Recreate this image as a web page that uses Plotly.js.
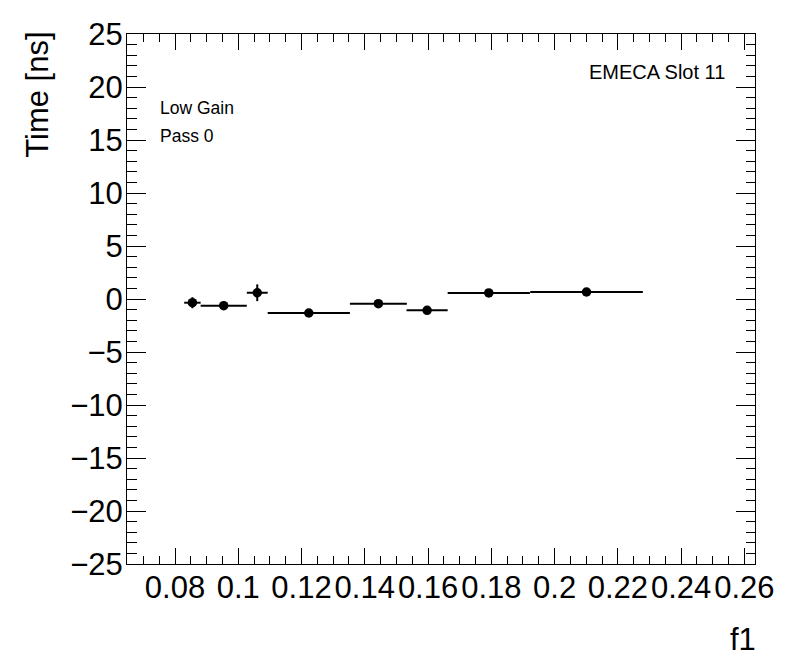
<!DOCTYPE html>
<html>
<head>
<meta charset="utf-8">
<script src="https://cdn.plot.ly/plotly-3.0.1.min.js"></script>
<style>html,body{margin:0;padding:0;background:#fff;}#chart{width:796px;height:672px;}</style>
</head>
<body>
<div id="chart"></div>
<script>
// Bin centres (f1), half bin widths, time values and their errors
const f1Centers = [0.0855, 0.0954, 0.1060, 0.1223, 0.1443, 0.1597, 0.1792, 0.2101];
const f1HalfWidths = [0.0026, 0.0073, 0.0033, 0.0130, 0.0090, 0.0065, 0.0130, 0.0178];
const timeValues = [-0.35, -0.63, 0.59, -1.32, -0.44, -1.07, 0.57, 0.66];
const timeErrors = [0.52, 0.2, 0.79, 0.2, 0.2, 0.2, 0.2, 0.2];
const xTickValues = [0.08, 0.1, 0.12, 0.14, 0.16, 0.18, 0.2, 0.22, 0.24, 0.26];
const xTickLabels = ['0.08', '0.1', '0.12', '0.14', '0.16', '0.18', '0.2', '0.22', '0.24', '0.26'];
const labels = {x: 'f1', y: 'Time [ns]', slot: 'EMECA Slot 11', gain: 'Low Gain', pass: 'Pass 0'};

const FONT = 'Liberation Sans, Arial, Helvetica, sans-serif';

const trace = {
  type: 'scatter',
  mode: 'markers',
  x: f1Centers,
  y: timeValues,
  marker: {symbol: 'circle', size: 9.5, color: '#000000'},
  error_x: {type: 'data', array: f1HalfWidths, visible: true, width: 0, thickness: 2, color: '#000000'},
  error_y: {type: 'data', array: timeErrors, visible: true, width: 0, thickness: 2, color: '#000000'},
  showlegend: false,
  hoverinfo: 'x+y'
};

const axisCommon = {
  showline: true,
  linecolor: '#000000',
  linewidth: 1,
  mirror: 'allticks',
  ticks: 'inside',
  tickcolor: '#000000',
  tickwidth: 1,
  showgrid: false,
  zeroline: false,
  tickfont: {family: FONT, size: 31, color: '#000000'}
};

const layout = {
  width: 796,
  height: 672,
  margin: {l: 127, r: 41, t: 34, b: 108, pad: 0},
  paper_bgcolor: '#ffffff',
  plot_bgcolor: '#ffffff',
  font: {family: FONT, color: '#000000'},
  xaxis: Object.assign({}, axisCommon, {
    range: [0.06482, 0.26337],
    tickmode: 'array',
    tickvals: xTickValues,
    ticktext: xTickLabels,
    ticklen: 16,
    ticklabelstandoff: -4,
    minor: {dtick: 0.005, ticklen: 8, ticks: 'inside', tickcolor: '#000000', tickwidth: 1, showgrid: false}
  }),
  yaxis: Object.assign({}, axisCommon, {
    range: [-25, 25],
    dtick: 5,
    tick0: 0,
    ticklen: 19,
    ticklabelstandoff: -3,
    minor: {dtick: 1, ticklen: 9.5, ticks: 'inside', tickcolor: '#000000', tickwidth: 1, showgrid: false}
  }),
  annotations: [
    {text: labels.y, xref: 'paper', yref: 'paper', x: -0.1417, y: 1.008, xanchor: 'center', yanchor: 'top',
     textangle: -90, showarrow: false, font: {family: FONT, size: 31, color: '#000000'}},
    {text: labels.x, xref: 'paper', yref: 'paper', x: 1.005, y: -0.143, xanchor: 'right', yanchor: 'middle',
     showarrow: false, font: {family: FONT, size: 31, color: '#000000'}},
    {text: labels.slot, xref: 'paper', yref: 'paper', x: 0.955, y: 0.928, xanchor: 'right', yanchor: 'middle',
     showarrow: false, font: {family: FONT, size: 20, color: '#000000'}},
    {text: labels.gain, xref: 'paper', yref: 'paper', x: 0.049, y: 0.860, xanchor: 'left', yanchor: 'middle',
     showarrow: false, font: {family: FONT, size: 17.5, color: '#000000'}},
    {text: labels.pass, xref: 'paper', yref: 'paper', x: 0.049, y: 0.8075, xanchor: 'left', yanchor: 'middle',
     showarrow: false, font: {family: FONT, size: 17.5, color: '#000000'}}
  ]
};

Plotly.newPlot('chart', [trace], layout, {displayModeBar: false, staticPlot: true});
</script>
</body>
</html>
